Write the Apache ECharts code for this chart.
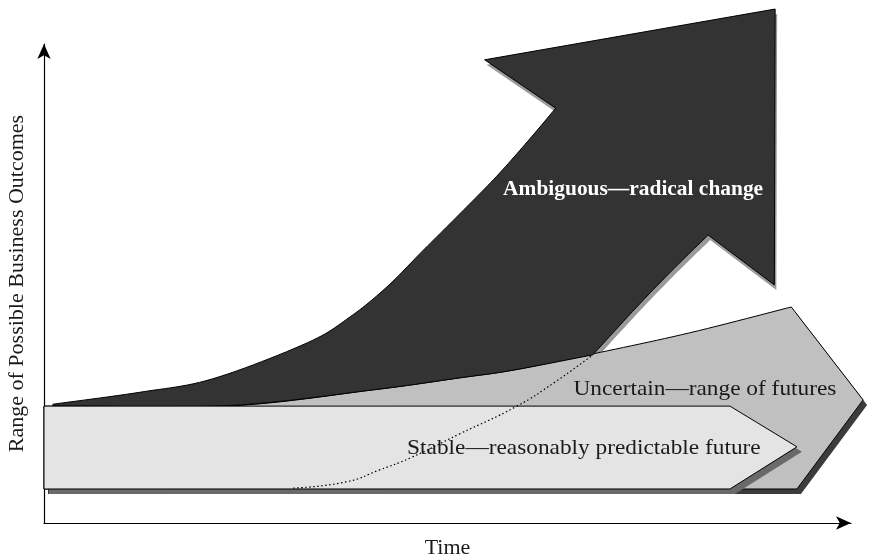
<!DOCTYPE html>
<html>
<head>
<meta charset="utf-8">
<script src="https://cdn.jsdelivr.net/npm/echarts@6/dist/echarts.min.js"></script>
<style>
  html, body { margin: 0; padding: 0; background: #ffffff; }
  #chart { width: 869px; height: 560px; }
</style>
</head>
<body>
<div id="chart"></div>
<script>
// Outlines in (time, range of outcomes) units, both axes running 0..100.

// Stable horizon: a flat band ending in a short point.
const stableOutline = [[0, 7.1], [0, 24.4], [85.0, 24.4], [93.3, 15.9], [85.0, 7.1]];

// Uncertain horizon: widening band with a broad head.
const uncertainBase = [[93.3, 7.1], [0, 7.1], [0, 24.4]];
const uncertainTop = [[0, 24.4], [22.7, 24.4], [40.8, 27.8], [51.5, 30.3], [58.1, 31.9],
                      [68.0, 35.3], [80.0, 39.7], [92.6, 45.1]];
const uncertainHead = [[92.6, 45.1], [101.5, 25.7], [93.3, 7.1]];

// Ambiguous horizon: curve sweeping upward into a large arrow head.
const ambiguousRise = [[1.1, 24.8], [11.9, 27.3], [20.9, 30.1], [32.6, 37.6],
                       [37.9, 43.0], [42.5, 49.3], [46.8, 56.6], [51.5, 64.5], [56.1, 72.4],
                       [60.2, 80.2], [63.4, 86.6]];
const ambiguousHead = [[63.4, 86.6], [54.6, 96.7], [90.6, 107.3], [90.5, 49.7], [82.3, 60.1]];
const ambiguousInner = [[82.3, 60.1], [78.4, 53.7], [73.9, 45.9], [68.0, 35.1]];
const ambiguousBase = [[68.0, 35.1], [58.1, 31.9], [51.5, 30.3], [40.8, 27.8], [22.7, 24.5],
                       [1.1, 24.5]];

// Dotted trace of where the ambiguous curve would start.
const hiddenTrace = [[30.9, 7.3], [37.5, 8.6], [41.6, 11.1], [45.4, 13.6], [51.5, 18.6],
                     [58.6, 24.4], [63.3, 29.4], [68.0, 35.1]];

// Labels and their anchor points.
const labelTexts = ['Ambiguous\u2014radical change', 'Uncertain\u2014range of futures',
                    'Stable\u2014reasonably predictable future'];
const labelAnchors = [[73.0, 69.6], [81.9, 28.0], [66.9, 15.7]];

const axisNames = { x: 'Time', y: 'Range of Possible Business Outcomes' };

const SERIF = '"Liberation Serif", "Times New Roman", serif';

// Catmull-Rom smoothing of a pixel polyline for drawing.
function smoothPixels(px) {
  const out = [px[0]];
  for (let i = 0; i < px.length - 1; i++) {
    const p0 = px[Math.max(i - 1, 0)], p1 = px[i], p2 = px[i + 1];
    const p3 = px[Math.min(i + 2, px.length - 1)];
    for (let s = 1; s <= 12; s++) {
      const t = s / 12, t2 = t * t, t3 = t2 * t;
      out.push([0, 1].map(k => 0.5 * (2 * p1[k] + (-p0[k] + p2[k]) * t +
        (2 * p0[k] - 5 * p1[k] + 4 * p2[k] - p3[k]) * t2 +
        (-p0[k] + 3 * p1[k] - 3 * p2[k] + p3[k]) * t3)));
    }
  }
  return out;
}

function outlinePixels(api, runs) {
  let pts = [];
  runs.forEach(([data, smooth]) => {
    let px = data.map(p => api.coord(p));
    if (smooth) px = smoothPixels(px);
    if (pts.length) px = px.slice(1);
    pts = pts.concat(px);
  });
  return pts;
}

function shapeSeries(name, runs, z, style, offset) {
  const dx = offset ? offset[0] : 0, dy = offset ? offset[1] : 0;
  return {
    type: 'custom',
    name: name,
    z: z,
    silent: true,
    clip: false,
    data: [runs[0][0][0]],
    renderItem: (params, api) => {
      const pts = outlinePixels(api, runs).map(p => [p[0] + dx, p[1] + dy]);
      return { type: 'polygon', shape: { points: pts }, style: style };
    }
  };
}

const stableRuns = [[stableOutline.concat([stableOutline[0]]), false]];
const uncertainRuns = [[uncertainBase, false], [uncertainTop, true], [uncertainHead, false]];
const ambiguousRuns = [[ambiguousRise, true], [ambiguousHead, false],
                       [ambiguousInner, true], [ambiguousBase, true]];

const labelStyles = [
  { fill: '#ffffff', fontWeight: 'bold', fontSize: 21, scaleX: 1.02 },
  { fill: '#1a1a1a', fontWeight: 'normal', fontSize: 22, scaleX: 1.06 },
  { fill: '#1a1a1a', fontWeight: 'normal', fontSize: 22, scaleX: 1.06 }
];

const chart = echarts.init(document.getElementById('chart'), null, { renderer: 'canvas' });

chart.setOption({
  animation: false,
  backgroundColor: '#ffffff',
  grid: { left: 44, right: 18, top: 44, bottom: 37, outerBoundsMode: 'none', containLabel: false },
  xAxis: {
    type: 'value', min: 0, max: 100,
    axisLine: { show: true, onZero: false, symbol: ['none', 'arrow'], symbolSize: [10, 15],
                lineStyle: { color: '#000', width: 1.2 } },
    axisTick: { show: false }, axisLabel: { show: false }, splitLine: { show: false },
    name: axisNames.x, nameLocation: 'middle', nameGap: 14,
    nameTextStyle: { fontFamily: SERIF, fontSize: 22, color: '#1a1a1a' }
  },
  yAxis: {
    type: 'value', min: 0, max: 100,
    axisLine: { show: true, onZero: false, symbol: ['none', 'arrow'], symbolSize: [10, 15],
                lineStyle: { color: '#000', width: 1.2 } },
    axisTick: { show: false }, axisLabel: { show: false }, splitLine: { show: false },
    name: axisNames.y, nameLocation: 'middle', nameGap: 16,
    nameTextStyle: { fontFamily: SERIF, fontSize: 22, color: '#1a1a1a' }
  },
  series: [
    shapeSeries('ambiguous-shadow', ambiguousRuns, 1, { fill: '#9a9a9a' }, [2, 5]),
    shapeSeries('uncertain-shadow', uncertainRuns, 2, { fill: '#3c3c3c' }, [4, 5]),
    shapeSeries('uncertain', uncertainRuns, 3, { fill: '#c0c0c0', stroke: '#000', lineWidth: 1 }),
    shapeSeries('ambiguous', ambiguousRuns, 4, { fill: '#333333', stroke: '#000', lineWidth: 1 }),
    shapeSeries('stable-shadow', stableRuns, 5, { fill: '#6a6a6a' }, [5, 5]),
    shapeSeries('stable', stableRuns, 6, { fill: '#e4e4e4', stroke: '#000', lineWidth: 1 }),
    {
      type: 'line', name: 'trace', z: 7, silent: true,
      data: hiddenTrace, smooth: true, showSymbol: false,
      lineStyle: { color: '#000', width: 1.2, type: [1.5, 2.5] }
    },
    {
      type: 'custom', name: 'labels', z: 8, silent: true, clip: false,
      data: labelAnchors,
      renderItem: (params, api) => {
        const p = api.coord([api.value(0), api.value(1)]);
        const st = labelStyles[params.dataIndex];
        return {
          type: 'text', x: p[0], y: p[1], scaleX: st.scaleX,
          style: {
            text: labelTexts[params.dataIndex], fill: st.fill,
            fontFamily: SERIF, fontSize: st.fontSize, fontWeight: st.fontWeight,
            align: 'center', verticalAlign: 'middle'
          }
        };
      }
    }
  ]
});
</script>
</body>
</html>
